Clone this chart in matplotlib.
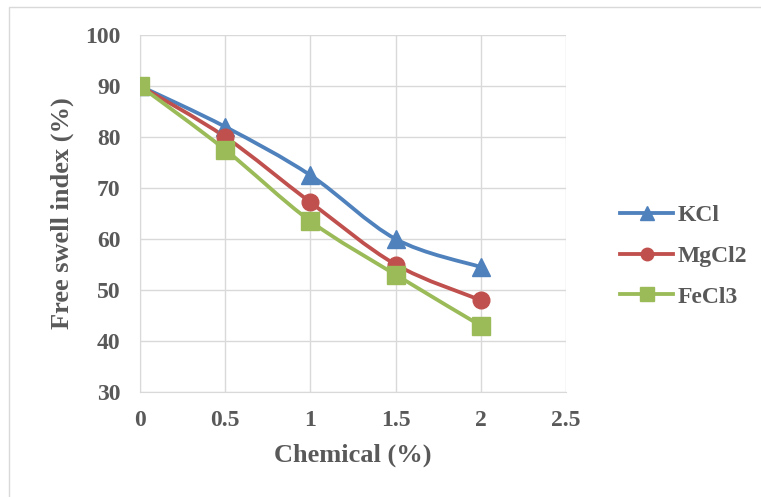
import numpy as np
import matplotlib
matplotlib.use('Agg')
import matplotlib.pyplot as plt
from matplotlib.path import Path
from matplotlib.patches import PathPatch, Rectangle
from matplotlib.lines import Line2D

# ── data ──────────────────────────────────────────────────────────────────────
chemical = [0, 0.5, 1, 1.5, 2]
kcl = [90, 82, 72.5, 60, 54.5]
mgcl2 = [90, 80, 67.2, 55, 48]
fecl3 = [90, 77.5, 63.5, 53, 43]
series_names = ['KCl', 'MgCl2', 'FeCl3']

colors = ['#4F81BD', '#C0504D', '#9BBB59']
markers = ['^', 'o', 's']
msizes = [13, 12, 13]
text_color = '#595959'

plt.rcParams['font.family'] = ['Liberation Serif', 'DejaVu Serif']
plt.rcParams['font.weight'] = 'bold'


def smooth_path(x, y, t=1 / 6):
    # Excel-style smoothed line: cubic bezier segments through each point
    x = np.asarray(x, float)
    y = np.asarray(y, float)
    px = np.concatenate([[x[0]], x, [x[-1]]])
    py = np.concatenate([[y[0]], y, [y[-1]]])
    verts = [(x[0], y[0])]
    codes = [Path.MOVETO]
    for i in range(len(x) - 1):
        c1 = (x[i] + (px[i + 2] - px[i]) * t, y[i] + (py[i + 2] - py[i]) * t)
        c2 = (x[i + 1] - (px[i + 3] - px[i + 1]) * t, y[i + 1] - (py[i + 3] - py[i + 1]) * t)
        verts += [c1, c2, (x[i + 1], y[i + 1])]
        codes += [Path.CURVE4] * 3
    return Path(verts, codes)


fig = plt.figure(figsize=(7.61, 4.97), dpi=100)
fig.patches.append(Rectangle((9 / 761, -0.1), 1.2, 1 - 7 / 497 + 0.1, transform=fig.transFigure,
                             fill=False, edgecolor='#D9D9D9', linewidth=1))
ax = fig.add_axes([140 / 761, 1 - 392 / 497, 426 / 761, 357 / 497])

handles = []
for ys, name, c, m, ms in zip([kcl, mgcl2, fecl3], series_names, colors, markers, msizes):
    ax.add_patch(PathPatch(smooth_path(chemical, ys), facecolor='none', edgecolor=c,
                           linewidth=2.75, zorder=3, capstyle='round'))
    ax.plot(chemical, ys, linestyle='none', marker=m, markersize=ms, color=c, zorder=4)
    handles.append(Line2D([], [], color=c, linewidth=2.75, marker=m, markersize=ms * 0.75, label=name))

ax.set_xlim(0, 2.5)
ax.set_ylim(30, 100)
ax.set_xticks([0, 0.5, 1, 1.5, 2, 2.5])
ax.set_xticklabels(['0', '0.5', '1', '1.5', '2', '2.5'])
ax.set_yticks(range(30, 101, 10))
ax.grid(True, color='#D9D9D9', linewidth=1)
ax.set_axisbelow(True)
for s in ['top', 'right']:
    ax.spines[s].set_visible(False)
for s in ['left', 'bottom']:
    ax.spines[s].set_color('#D9D9D9')
ax.tick_params(length=0, labelsize=17, colors=text_color)
ax.tick_params(axis='y', pad=14)
ax.tick_params(axis='x', pad=13)
for lbl in ax.get_xticklabels() + ax.get_yticklabels():
    lbl.set_fontweight('bold')

ax.set_xlabel('Chemical (%)', fontsize=19, fontweight='bold', color=text_color, labelpad=9)
ax.set_ylabel('Free swell index (%)', fontsize=19, fontweight='bold', color=text_color, labelpad=8)

leg = fig.legend(handles=handles, loc='center left', bbox_to_anchor=(620 / 761, 1 - 256 / 497),
                 frameon=False, fontsize=17, handlelength=2.25, labelspacing=0.82,
                 handletextpad=0.2, borderaxespad=0, borderpad=0)
for t in leg.get_texts():
    t.set_color(text_color)
    t.set_fontweight('bold')

fig.savefig('out.png', dpi=100)
